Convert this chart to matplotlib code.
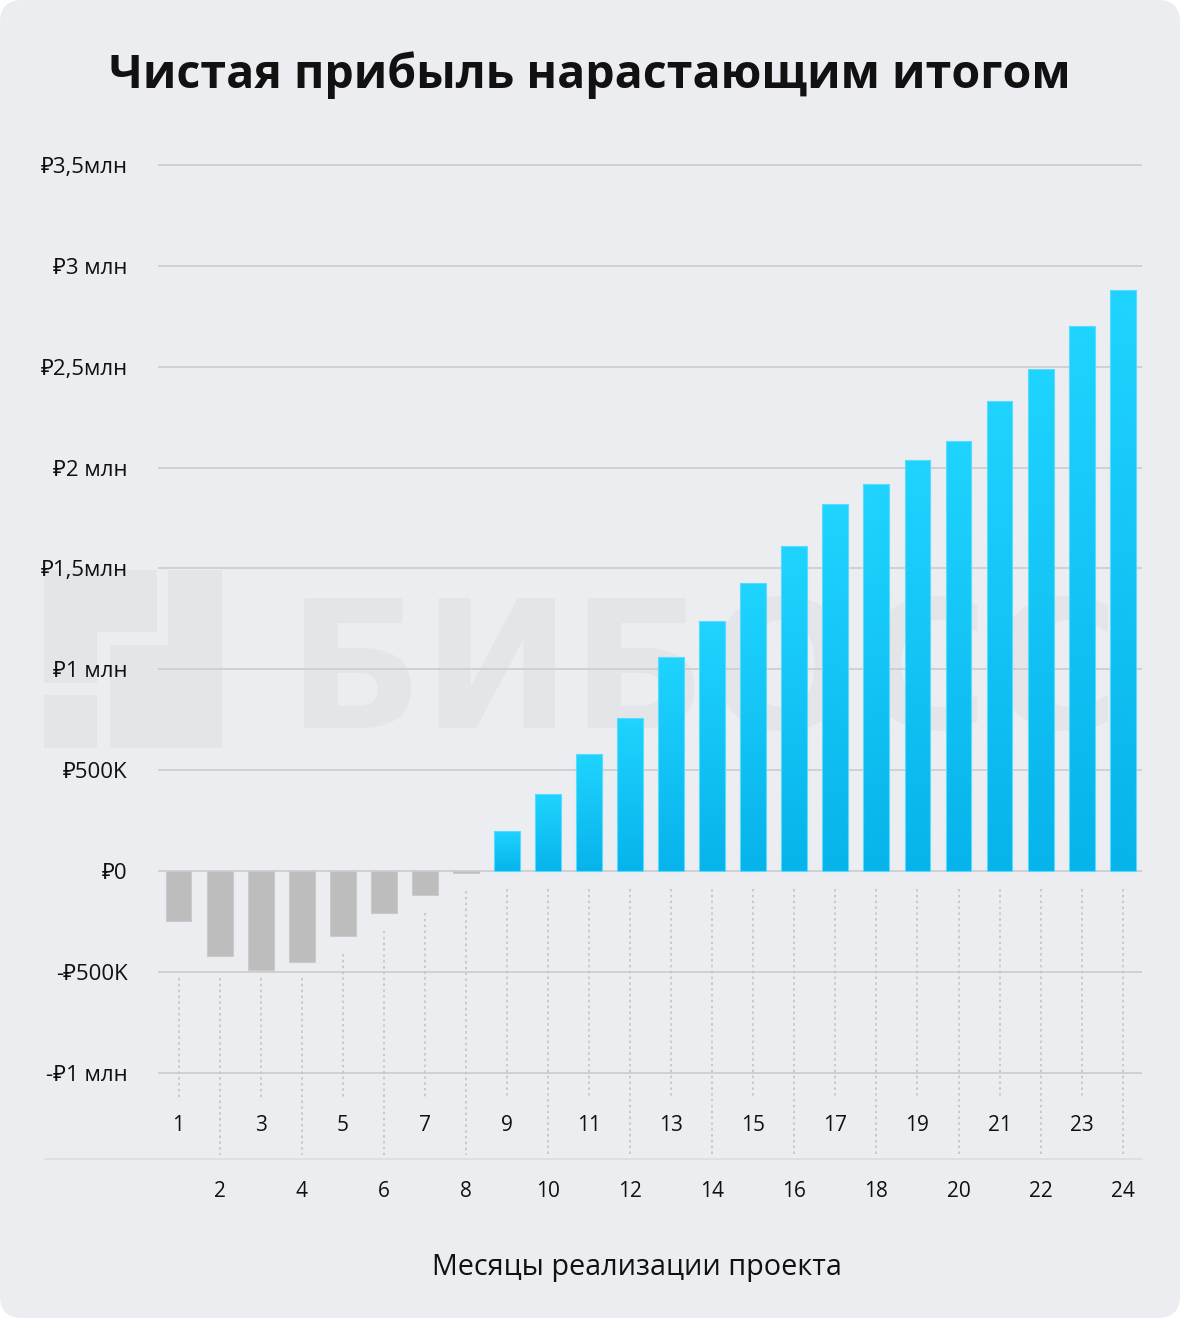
import numpy as np
import matplotlib.pyplot as plt
from matplotlib.patches import FancyBboxPatch, Rectangle
from matplotlib.colors import LinearSegmentedColormap
from matplotlib.transforms import IdentityTransform

plt.rcParams['font.family'] = ['Open Sans', 'Noto Sans', 'DejaVu Sans']

# cumulative net profit, millions of rubles
months = list(range(1, 25))
profit = [-0.25, -0.42, -0.49, -0.45, -0.32, -0.21, -0.12, -0.01,
          0.20, 0.38, 0.58, 0.76, 1.06, 1.24, 1.43, 1.61,
          1.82, 1.92, 2.04, 2.13, 2.33, 2.49, 2.70, 2.88]
ytick_vals = [-1, -0.5, 0, 0.5, 1, 1.5, 2, 2.5, 3, 3.5]
ytick_labels = ['-₽1 млн', '-₽500K', '₽0', '₽500K', '₽1 млн',
                '₽1,5млн', '₽2 млн', '₽2,5млн', '₽3 млн', '₽3,5млн']
title = 'Чистая прибыль нарастающим итогом'
xlabel = 'Месяцы реализации проекта'
watermark = 'БИБОСС'

W, H = 1180, 1318
bg = '#ecedf1'
wm_color = '#e4e5e9'
txt = '#111111'

fig = plt.figure(figsize=(W / 100, H / 100), dpi=100, facecolor='white')
card = FancyBboxPatch((0, 0), W, H, boxstyle='round,pad=0,rounding_size=22',
                      transform=IdentityTransform(), facecolor=bg, edgecolor='none', zorder=-10)
fig.patches.append(card)

ax = fig.add_axes([158 / W, (H - 1159) / H, (1142 - 158) / W, (1159 - 161) / H])
ax.set_facecolor('none')
for s in ax.spines.values():
    s.set_visible(False)

# watermark (pixel coords, from top)
for x0, y0, x1, y1 in [(44, 570, 97, 683), (44, 695, 97, 748), (97, 570, 157, 632),
                       (110, 645, 222, 748), (168, 570, 222, 683)]:
    ax.add_patch(Rectangle((x0, H - y1), x1 - x0, y1 - y0, transform=IdentityTransform(),
                           facecolor=wm_color, edgecolor='none', zorder=0.5, clip_on=False))
ax.text(288, H - 728, watermark, transform=IdentityTransform(), fontsize=128,
        fontweight='bold', family='DejaVu Sans', color=wm_color, va='baseline',
        zorder=0.5, clip_on=False)

for v in ytick_vals:
    ax.axhline(v, color='#cdced2', lw=1.3, zorder=1)

ymin, ymax = -1.428, 3.52
xmin, xmax = 0.5, 24.47

# dotted guides + month labels
for m, v in zip(months, profit):
    top = -0.53 if m <= 4 else min(v, 0) - 0.09
    bottom = -1.125 if m % 2 else -1.41
    ax.plot([m, m], [top, bottom], color='#c3c4c8', lw=1.2, ls=(0, (1.5, 2)),
            zorder=1, clip_on=False)
    ax.text(m, -1.264 if m % 2 else -1.587, str(m), ha='center', va='center',
            fontsize=15, color=txt, clip_on=False)

ax.plot([-2.25, xmax], [ymin, ymin], color='#dcdde1', lw=1.2, clip_on=False, zorder=1)

cmap = LinearSegmentedColormap.from_list('blue', ['#07b3eb', '#1fd4ff'])
grad = np.linspace(0, 1, 256).reshape(-1, 1)
bars = ax.bar(months, profit, width=0.63, zorder=3)
for b, v in zip(bars, profit):
    if v < 0:
        b.set_facecolor('#bdbdbd')
        b.set_edgecolor('#cacaca')
        b.set_linewidth(0.8)
    else:
        b.set_facecolor('none')
        b.set_edgecolor('#55dcff')
        b.set_linewidth(0.8)
        x0 = b.get_x()
        im = ax.imshow(grad, extent=[x0, x0 + b.get_width(), 0, v], origin='lower',
                       cmap=cmap, aspect='auto', zorder=2.9)
        im.set_clip_path(b)

ax.set_xlim(xmin, xmax)
ax.set_ylim(ymin, ymax)
ax.set_xticks([])
ax.set_yticks(ytick_vals, ytick_labels)
ax.tick_params(axis='y', length=0, pad=22, labelsize=16, labelcolor=txt)

fig.text(0.5, 1 - 75 / H, title, ha='center', va='center', fontsize=33.5,
         fontweight='bold', color=txt)
fig.text(637 / W, 1 - 1268 / H, xlabel, ha='center', va='center', fontsize=20.7, color=txt)

fig.savefig('out.png', dpi=100, facecolor='white')
